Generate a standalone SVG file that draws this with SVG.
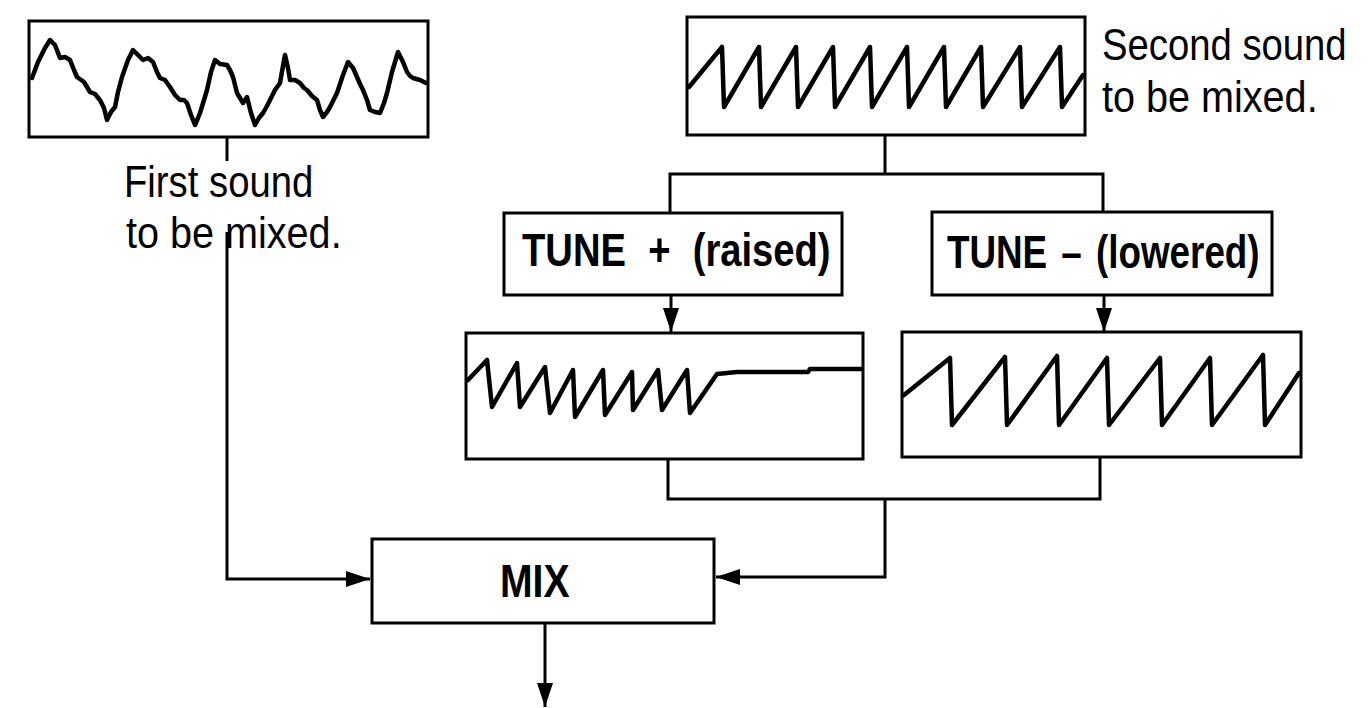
<svg xmlns="http://www.w3.org/2000/svg" width="1371" height="708" viewBox="0 0 1371 708">
<style>
.box{fill:#fff;stroke:#000;stroke-width:3}
.wave{fill:none;stroke:#000;stroke-width:4.5;stroke-linejoin:round;stroke-linecap:round}
.conn{fill:none;stroke:#000;stroke-width:3}
.lbl{font-family:"Liberation Sans",Arial,sans-serif;font-size:44px;fill:#000}
.bold{font-family:"Liberation Sans",Arial,sans-serif;font-weight:bold;font-size:46px;fill:#000}
</style>
<defs>
<marker id="ah" markerUnits="userSpaceOnUse" markerWidth="26" markerHeight="18" refX="24" refY="9" orient="auto">
<path d="M0,1 L24,9 L0,17 z" fill="#000"/>
</marker>
</defs>
<g id="connectors">
<path class="conn" d="M227,137 V161"/>
<path class="conn" d="M227,232 V579 H370" marker-end="url(#ah)"/>
<path class="conn" d="M885,135 V174"/>
<path class="conn" d="M670,213 V174 H1103 V212"/>
<path class="conn" d="M671,295 V332" marker-end="url(#ah)"/>
<path class="conn" d="M1104,295 V332" marker-end="url(#ah)"/>
<path class="conn" d="M668,459 V499 H1100 V457"/>
<path class="conn" d="M885,499 V577 H716" marker-end="url(#ah)"/>
<path class="conn" d="M545,623 V707" marker-end="url(#ah)"/>
</g>
<g id="node-sound1">
<rect class="box" x="29" y="21" width="399" height="116"/>
<polyline class="wave" points="32,78 38,62 45,48 50,40 55,45 60,58 65,57 70,60 74,70 77,77 84,82 90,92 95,94 100,100 104,108 107,120 111,112 115,107 118,92 122,77 128,60 133,50 138,55 143,60 148,58 153,62 157,72 160,78 165,80 170,87 175,95 180,100 184,100 187,103 191,115 195,125 198,118 200,113 204,100 207,90 211,72 215,60 220,64 227,65 230,70 233,77 237,93 240,98 243,103 247,97 251,113 255,125 259,118 263,113 267,106 270,100 275,90 280,83 283,66 285,55 288,68 290,80 295,80 300,83 304,88 307,90 312,96 317,100 320,110 323,117 327,112 330,107 334,99 337,93 343,75 348,62 353,68 357,77 360,84 363,90 367,100 370,110 375,112 380,113 384,103 387,93 392,72 398,52 403,62 407,72 410,76 413,78 420,80 426,83"/>
<text class="lbl" transform="translate(124,197) scale(0.87,1)">First sound</text>
<text class="lbl" transform="translate(126,248) scale(0.9,1)">to be mixed.</text>
</g>
<g id="node-sound2">
<rect class="box" x="687" y="17" width="398" height="118"/>
<polyline class="wave" points="689,87 722,47 724,107 759,47 761,107 796,47 798,107 833,47 835,107 870,47 872,107 907,47 909,107 944,47 946,107 981,47 983,107 1020,47 1022,107 1060,47 1062,107 1083,75"/>
<text class="lbl" transform="translate(1102,60) scale(0.87,1)">Second sound</text>
<text class="lbl" transform="translate(1102,112) scale(0.9,1)">to be mixed.</text>
</g>
<g id="node-tune-plus">
<rect class="box" x="504" y="213" width="338" height="82"/>
<text class="bold" transform="translate(522,266) scale(0.83,1)" word-spacing="14">TUNE + (raised)</text>
</g>
<g id="node-tune-minus">
<rect class="box" x="932" y="212" width="340" height="83"/>
<text class="bold" transform="translate(947,268) scale(0.8,1)" word-spacing="5">TUNE – (lowered)</text>
</g>
<g id="node-raised-wave">
<rect class="box" x="466" y="333" width="397" height="126"/>
<polyline class="wave" points="468,380 487,360 492,407 517,363 520,407 545,367 550,413 573,370 575,417 603,370 605,415 632,372 633,410 658,370 662,410 687,370 690,413 717,374 737,372 808,372 810,369 861,369"/>
</g>
<g id="node-lowered-wave">
<rect class="box" x="902" y="332" width="399" height="125"/>
<polyline class="wave" points="904,395 950,358 952,425 1005,357 1007,425 1057,356 1059,425 1107,358 1109,425 1160,358 1162,425 1210,358 1212,425 1263,355 1265,425 1299,373"/>
</g>
<g id="node-mix">
<rect class="box" x="372" y="539" width="342" height="84"/>
<text class="bold" transform="translate(500,597) scale(0.85,1)">MIX</text>
</g>
</svg>
